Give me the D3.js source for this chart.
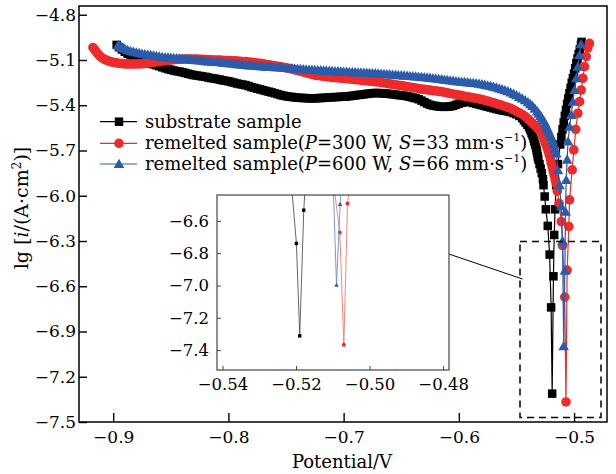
<!DOCTYPE html>
<html>
<head>
<meta charset="utf-8">
<script src="https://cdn.jsdelivr.net/npm/d3@7/dist/d3.min.js"></script>
<style>
  body { margin: 0; background: #fff; }
  svg { display: block; }
  text { font-family: "DejaVu Serif", serif; fill: #000; }
</style>
</head>
<body>
<svg id="chart" width="616" height="474"></svg>
<script>
// [potential / V, lg i]
const substrate = [
  [-0.897,-5.000],[-0.895,-5.015],[-0.8925,-5.03],[-0.890,-5.045],[-0.8875,-5.058],[-0.885,-5.068],
  [-0.8825,-5.077],[-0.880,-5.085],[-0.8775,-5.093],[-0.875,-5.100],[-0.8725,-5.108],[-0.870,-5.115],
  [-0.8675,-5.122],[-0.865,-5.129],[-0.8625,-5.135],[-0.860,-5.141],[-0.8575,-5.148],[-0.855,-5.154],
  [-0.8525,-5.160],[-0.850,-5.165],[-0.8475,-5.170],[-0.845,-5.174],[-0.8425,-5.177],[-0.840,-5.181],
  [-0.8375,-5.186],[-0.835,-5.191],[-0.8325,-5.196],[-0.830,-5.200],[-0.8275,-5.203],[-0.825,-5.206],
  [-0.8225,-5.209],[-0.820,-5.212],[-0.8175,-5.216],[-0.815,-5.220],[-0.8125,-5.223],[-0.810,-5.226],
  [-0.8075,-5.230],[-0.805,-5.235],[-0.8025,-5.238],[-0.800,-5.241],[-0.7975,-5.246],[-0.795,-5.251],
  [-0.7925,-5.256],[-0.790,-5.260],[-0.7875,-5.263],[-0.785,-5.267],[-0.7825,-5.273],[-0.780,-5.280],
  [-0.7775,-5.285],[-0.775,-5.290],[-0.7725,-5.295],[-0.770,-5.300],[-0.7675,-5.305],[-0.765,-5.310],
  [-0.7625,-5.315],[-0.760,-5.320],[-0.7575,-5.326],[-0.755,-5.332],[-0.7525,-5.336],[-0.750,-5.340],
  [-0.7475,-5.343],[-0.745,-5.345],[-0.7425,-5.348],[-0.740,-5.350],[-0.7375,-5.351],[-0.735,-5.352],
  [-0.7325,-5.353],[-0.730,-5.354],[-0.7275,-5.354],[-0.725,-5.354],[-0.7225,-5.353],[-0.720,-5.352],
  [-0.7175,-5.351],[-0.715,-5.350],[-0.7125,-5.348],[-0.710,-5.347],[-0.7075,-5.346],[-0.705,-5.345],
  [-0.7025,-5.344],[-0.700,-5.343],[-0.6975,-5.342],[-0.695,-5.340],[-0.6925,-5.337],[-0.690,-5.335],
  [-0.6875,-5.332],[-0.685,-5.330],[-0.6825,-5.327],[-0.680,-5.325],[-0.6775,-5.322],[-0.675,-5.320],
  [-0.6725,-5.319],[-0.670,-5.319],[-0.6675,-5.320],[-0.665,-5.322],[-0.6625,-5.323],[-0.660,-5.325],
  [-0.6575,-5.327],[-0.655,-5.330],[-0.6525,-5.332],[-0.650,-5.335],[-0.6475,-5.337],[-0.645,-5.340],
  [-0.6425,-5.344],[-0.640,-5.349],[-0.6375,-5.354],[-0.635,-5.360],[-0.6325,-5.369],[-0.630,-5.379],
  [-0.6275,-5.389],[-0.625,-5.397],[-0.6225,-5.402],[-0.620,-5.405],[-0.6175,-5.408],[-0.615,-5.410],
  [-0.6125,-5.411],[-0.610,-5.410],[-0.6075,-5.408],[-0.605,-5.404],[-0.6025,-5.397],[-0.600,-5.390],
  [-0.5975,-5.383],[-0.595,-5.378],[-0.5925,-5.377],[-0.590,-5.380],[-0.5875,-5.385],[-0.585,-5.390],
  [-0.5825,-5.395],[-0.580,-5.400],[-0.5775,-5.405],[-0.575,-5.410],[-0.5725,-5.415],[-0.570,-5.420],
  [-0.5675,-5.425],[-0.565,-5.430],[-0.5625,-5.434],[-0.560,-5.437],[-0.5575,-5.441],[-0.555,-5.445],
  [-0.5525,-5.452],[-0.550,-5.460],[-0.5475,-5.471],[-0.545,-5.485],[-0.5435,-5.50],[-0.542,-5.515],
  [-0.5405,-5.53],[-0.539,-5.545],[-0.5382,-5.557],[-0.5375,-5.57],[-0.5368,-5.585],[-0.536,-5.60],
  [-0.5352,-5.62],[-0.5345,-5.64],[-0.5338,-5.66],[-0.533,-5.68],[-0.5325,-5.70],[-0.532,-5.72],
  [-0.5315,-5.74],[-0.531,-5.76],[-0.530,-5.79],[-0.529,-5.82],[-0.528,-5.85],[-0.527,-5.89],
  [-0.5265,-5.93],[-0.5255,-6.005],[-0.5245,-6.09],[-0.5228,-6.20],[-0.5212,-6.39],[-0.5199,-6.74],
  [-0.5190,-7.312],[-0.5179,-6.534],[-0.5172,-6.26],[-0.5165,-6.09],[-0.5155,-5.93],[-0.5140,-5.79],
  [-0.5120,-5.66],[-0.5110,-5.61],[-0.5100,-5.56],[-0.5090,-5.515],[-0.5080,-5.47],[-0.5070,-5.43],
  [-0.5060,-5.39],[-0.5050,-5.355],[-0.5040,-5.32],[-0.5030,-5.285],[-0.5020,-5.25],[-0.5010,-5.22],
  [-0.5000,-5.19],[-0.4990,-5.155],[-0.4980,-5.12],[-0.4970,-5.09],[-0.4960,-5.06],[-0.4950,-5.03],
  [-0.4940,-5.00],[-0.4935,-4.98]
];
const remelted300 = [
  [-0.9176,-5.017],[-0.9160,-5.033],[-0.9145,-5.048],[-0.9130,-5.062],[-0.9115,-5.074],[-0.9100,-5.084],
  [-0.9080,-5.094],[-0.9060,-5.101],[-0.9040,-5.107],[-0.9020,-5.112],[-0.900,-5.115],[-0.8975,-5.119],
  [-0.895,-5.122],[-0.8925,-5.124],[-0.890,-5.126],[-0.8875,-5.127],[-0.885,-5.127],[-0.8825,-5.127],
  [-0.880,-5.127],[-0.8775,-5.126],[-0.875,-5.125],[-0.8725,-5.123],[-0.870,-5.120],[-0.8675,-5.118],
  [-0.865,-5.115],[-0.8625,-5.112],[-0.860,-5.110],[-0.8575,-5.107],[-0.855,-5.105],[-0.8525,-5.102],
  [-0.850,-5.100],[-0.8475,-5.098],[-0.845,-5.097],[-0.8425,-5.096],[-0.840,-5.095],[-0.8375,-5.094],
  [-0.835,-5.094],[-0.8325,-5.094],[-0.830,-5.094],[-0.8275,-5.094],[-0.825,-5.095],[-0.8225,-5.096],
  [-0.820,-5.097],[-0.8175,-5.098],[-0.815,-5.099],[-0.8125,-5.100],[-0.810,-5.100],[-0.8075,-5.101],
  [-0.805,-5.102],[-0.8025,-5.103],[-0.800,-5.104],[-0.7975,-5.105],[-0.795,-5.106],[-0.7925,-5.107],
  [-0.790,-5.108],[-0.7875,-5.110],[-0.785,-5.111],[-0.7825,-5.113],[-0.780,-5.115],[-0.7775,-5.117],
  [-0.775,-5.120],[-0.7725,-5.122],[-0.770,-5.125],[-0.7675,-5.128],[-0.765,-5.132],[-0.7625,-5.135],
  [-0.760,-5.138],[-0.7575,-5.141],[-0.755,-5.144],[-0.7525,-5.148],[-0.750,-5.152],[-0.7475,-5.156],
  [-0.745,-5.160],[-0.7425,-5.165],[-0.740,-5.170],[-0.7375,-5.175],[-0.735,-5.180],[-0.7325,-5.185],
  [-0.730,-5.190],[-0.7275,-5.195],[-0.725,-5.200],[-0.7225,-5.203],[-0.720,-5.205],[-0.7175,-5.208],
  [-0.715,-5.210],[-0.7125,-5.213],[-0.710,-5.215],[-0.7075,-5.217],[-0.705,-5.218],[-0.7025,-5.220],
  [-0.700,-5.221],[-0.6975,-5.223],[-0.695,-5.225],[-0.6925,-5.228],[-0.690,-5.230],[-0.6875,-5.232],
  [-0.685,-5.234],[-0.6825,-5.236],[-0.680,-5.238],[-0.6775,-5.240],[-0.675,-5.242],[-0.6725,-5.244],
  [-0.670,-5.246],[-0.6675,-5.249],[-0.665,-5.252],[-0.6625,-5.255],[-0.660,-5.258],[-0.6575,-5.261],
  [-0.655,-5.264],[-0.6525,-5.267],[-0.650,-5.270],[-0.6475,-5.273],[-0.645,-5.276],[-0.6425,-5.279],
  [-0.640,-5.282],[-0.6375,-5.286],[-0.635,-5.290],[-0.6325,-5.293],[-0.630,-5.295],[-0.6275,-5.298],
  [-0.625,-5.300],[-0.6225,-5.303],[-0.620,-5.305],[-0.6175,-5.308],[-0.615,-5.310],[-0.6125,-5.314],
  [-0.610,-5.318],[-0.6075,-5.322],[-0.605,-5.325],[-0.6025,-5.329],[-0.600,-5.332],[-0.5975,-5.336],
  [-0.595,-5.340],[-0.5925,-5.344],[-0.590,-5.347],[-0.5875,-5.351],[-0.585,-5.354],[-0.5825,-5.358],
  [-0.580,-5.362],[-0.5775,-5.367],[-0.575,-5.372],[-0.5725,-5.378],[-0.570,-5.383],[-0.5675,-5.389],
  [-0.565,-5.395],[-0.5625,-5.401],[-0.560,-5.408],[-0.5575,-5.414],[-0.555,-5.420],[-0.5525,-5.430],
  [-0.550,-5.440],[-0.5475,-5.450],[-0.545,-5.460],[-0.5425,-5.474],[-0.540,-5.490],[-0.538,-5.505],
  [-0.536,-5.520],[-0.534,-5.535],[-0.532,-5.550],[-0.530,-5.567],[-0.5285,-5.585],[-0.527,-5.605],
  [-0.526,-5.63],[-0.5248,-5.655],[-0.5235,-5.68],[-0.5225,-5.705],[-0.5215,-5.73],[-0.5205,-5.757],
  [-0.5198,-5.784],[-0.5190,-5.807],[-0.5183,-5.83],[-0.5176,-5.852],[-0.5169,-5.873],[-0.5162,-5.897],
  [-0.5155,-5.92],[-0.5145,-5.97],[-0.5130,-6.05],[-0.5111,-6.171],[-0.5100,-6.33],[-0.5081,-6.672],
  [-0.5070,-7.367],[-0.5060,-6.493],[-0.5045,-6.204],[-0.5039,-6.027],[-0.5016,-5.828],[-0.5002,-5.696],
  [-0.4985,-5.56],[-0.4967,-5.453],[-0.4952,-5.376],[-0.4938,-5.299],[-0.4924,-5.221],[-0.4909,-5.144],
  [-0.4894,-5.078],[-0.4880,-5.02],[-0.4866,-4.99]
];
const remelted600 = [
  [-0.8957,-5.000],[-0.8945,-5.008],[-0.893,-5.015],[-0.8915,-5.020],[-0.890,-5.025],[-0.8875,-5.033],
  [-0.885,-5.040],[-0.8825,-5.045],[-0.880,-5.050],[-0.8775,-5.054],[-0.875,-5.058],[-0.8725,-5.061],
  [-0.870,-5.064],[-0.8675,-5.067],[-0.865,-5.070],[-0.8625,-5.073],[-0.860,-5.076],[-0.8575,-5.079],
  [-0.855,-5.081],[-0.8525,-5.083],[-0.850,-5.085],[-0.8475,-5.087],[-0.845,-5.088],[-0.8425,-5.090],
  [-0.840,-5.091],[-0.8375,-5.093],[-0.835,-5.095],[-0.8325,-5.097],[-0.830,-5.099],[-0.8275,-5.101],
  [-0.825,-5.103],[-0.8225,-5.105],[-0.820,-5.107],[-0.8175,-5.109],[-0.815,-5.110],[-0.8125,-5.112],
  [-0.810,-5.113],[-0.8075,-5.115],[-0.805,-5.117],[-0.8025,-5.119],[-0.800,-5.121],[-0.7975,-5.123],
  [-0.795,-5.125],[-0.7925,-5.127],[-0.790,-5.129],[-0.7875,-5.131],[-0.785,-5.133],[-0.7825,-5.135],
  [-0.780,-5.136],[-0.7775,-5.138],[-0.775,-5.139],[-0.7725,-5.141],[-0.770,-5.142],[-0.7675,-5.144],
  [-0.765,-5.145],[-0.7625,-5.146],[-0.760,-5.147],[-0.7575,-5.148],[-0.755,-5.149],[-0.7525,-5.151],
  [-0.750,-5.152],[-0.7475,-5.154],[-0.745,-5.155],[-0.7425,-5.157],[-0.740,-5.158],[-0.7375,-5.160],
  [-0.735,-5.161],[-0.7325,-5.163],[-0.730,-5.164],[-0.7275,-5.165],[-0.725,-5.166],[-0.7225,-5.167],
  [-0.720,-5.168],[-0.7175,-5.169],[-0.715,-5.170],[-0.7125,-5.171],[-0.710,-5.172],[-0.7075,-5.174],
  [-0.705,-5.175],[-0.7025,-5.176],[-0.700,-5.177],[-0.6975,-5.178],[-0.695,-5.179],[-0.6925,-5.180],
  [-0.690,-5.181],[-0.6875,-5.182],[-0.685,-5.183],[-0.6825,-5.184],[-0.680,-5.185],[-0.6775,-5.186],
  [-0.675,-5.187],[-0.6725,-5.188],[-0.670,-5.189],[-0.6675,-5.191],[-0.665,-5.192],[-0.6625,-5.194],
  [-0.660,-5.195],[-0.6575,-5.197],[-0.655,-5.198],[-0.6525,-5.200],[-0.650,-5.201],[-0.6475,-5.203],
  [-0.645,-5.204],[-0.6425,-5.206],[-0.640,-5.207],[-0.6375,-5.209],[-0.635,-5.210],[-0.6325,-5.212],
  [-0.630,-5.214],[-0.6275,-5.216],[-0.625,-5.218],[-0.6225,-5.220],[-0.620,-5.222],[-0.6175,-5.225],
  [-0.615,-5.227],[-0.6125,-5.230],[-0.610,-5.232],[-0.6075,-5.235],[-0.605,-5.237],[-0.6025,-5.240],
  [-0.600,-5.242],[-0.5975,-5.244],[-0.595,-5.246],[-0.5925,-5.248],[-0.590,-5.250],[-0.5875,-5.252],
  [-0.585,-5.254],[-0.5825,-5.257],[-0.580,-5.260],[-0.5775,-5.264],[-0.575,-5.268],[-0.5725,-5.272],
  [-0.570,-5.277],[-0.5675,-5.282],[-0.565,-5.288],[-0.5625,-5.294],[-0.560,-5.300],[-0.5575,-5.307],
  [-0.555,-5.315],[-0.5525,-5.324],[-0.550,-5.333],[-0.5475,-5.344],[-0.545,-5.355],[-0.5425,-5.367],
  [-0.540,-5.380],[-0.538,-5.392],[-0.536,-5.405],[-0.534,-5.422],[-0.532,-5.440],[-0.5305,-5.455],
  [-0.529,-5.470],[-0.528,-5.485],[-0.5265,-5.50],[-0.525,-5.52],[-0.524,-5.54],[-0.523,-5.557],
  [-0.522,-5.575],[-0.521,-5.592],[-0.5198,-5.61],[-0.5185,-5.635],[-0.5175,-5.66],[-0.5165,-5.69],
  [-0.5154,-5.72],[-0.5140,-5.83],[-0.5126,-5.93],[-0.5111,-6.07],[-0.5100,-6.30],[-0.5090,-6.997],
  [-0.5080,-6.497],[-0.5074,-6.105],[-0.5068,-5.895],[-0.5060,-5.76],[-0.5052,-5.64],[-0.5039,-5.542],
  [-0.5024,-5.464],[-0.5010,-5.376],[-0.4996,-5.299],[-0.4981,-5.221],[-0.4967,-5.144],[-0.4953,-5.067],
  [-0.4940,-4.995]
];

const xTicks = [-0.9, -0.8, -0.7, -0.6, -0.5];
const yTicks = [-7.5, -7.2, -6.9, -6.6, -6.3, -6.0, -5.7, -5.4, -5.1, -4.8];
const insetXTicks = [-0.54, -0.52, -0.50, -0.48];
const insetYTicks = [-7.4, -7.2, -7.0, -6.8, -6.6];

const svg = d3.select('#chart');
const margin = { left: 79, right: 607, top: 6, bottom: 422 };

const x = d3.scaleLinear().domain([-0.9297, -0.4714]).range([margin.left, margin.right]);
const y = d3.scaleLinear().domain([-7.5, -4.742]).range([margin.bottom, margin.top]);

const series = [
  { data: substrate, color: '#000000', shape: 'square' },
  { data: remelted300, color: '#ee2a2a', shape: 'circle' },
  { data: remelted600, color: '#2b5cab', shape: 'triangle' }
];

function drawMarkers(g, s, sx, sy, big) {
  const sel = g.selectAll(null).data(s.data);
  if (s.shape === 'square') {
    const w = big ? 8.5 : 3.4;
    sel.enter().append('rect')
      .attr('x', d => sx(d[0]) - w / 2).attr('y', d => sy(d[1]) - w / 2)
      .attr('width', w).attr('height', w).attr('fill', s.color);
  } else if (s.shape === 'circle') {
    sel.enter().append('circle')
      .attr('cx', d => sx(d[0])).attr('cy', d => sy(d[1]))
      .attr('r', big ? 4.8 : 2).attr('fill', s.color);
  } else {
    const tri = d3.symbol(d3.symbolTriangle, big ? 50 : 9)();
    sel.enter().append('path').attr('d', tri)
      .attr('transform', d => `translate(${sx(d[0])},${sy(d[1]) + (big ? 1 : 0.5)})`)
      .attr('fill', s.color);
  }
}

// main curves
const mainG = svg.append('g');
series.forEach(s => {
  mainG.append('path').datum(s.data)
    .attr('d', d3.line().x(d => x(d[0])).y(d => y(d[1])))
    .attr('fill', 'none').attr('stroke', s.color).attr('stroke-width', 1.2);
  drawMarkers(mainG, s, x, y, true);
});

// main axes (ticks inward)
svg.append('g')
  .attr('transform', `translate(0,${margin.bottom})`)
  .call(d3.axisBottom(x).tickValues(xTicks).tickSize(-9).tickPadding(9).tickFormat(d3.format('.1f')))
  .call(g => g.select('.domain').remove())
  .call(g => g.selectAll('line').attr('stroke-width', 1.4))
  .call(g => g.selectAll('text').attr('font-size', 17).attr('font-family', '"DejaVu Serif", serif'));

svg.append('g')
  .attr('transform', `translate(${margin.left},0)`)
  .call(d3.axisLeft(y).tickValues(yTicks).tickSize(-8).tickPadding(3).tickFormat(d3.format('.1f')))
  .call(g => g.select('.domain').remove())
  .call(g => g.selectAll('line').attr('stroke-width', 1.4))
  .call(g => g.selectAll('text').attr('font-size', 17).attr('font-family', '"DejaVu Serif", serif'));

svg.append('rect')
  .attr('x', margin.left).attr('y', margin.top)
  .attr('width', margin.right - margin.left).attr('height', margin.bottom - margin.top)
  .attr('fill', 'none').attr('stroke', '#000').attr('stroke-width', 1.5);

// axis titles
svg.append('text')
  .attr('x', 342).attr('y', 468).attr('text-anchor', 'middle').attr('font-size', 18)
  .text('Potential/V');

const yTitle = svg.append('text')
  .attr('transform', 'translate(28,208) rotate(-90)')
  .attr('text-anchor', 'middle').attr('font-size', 19);
yTitle.append('tspan').text('lg [');
yTitle.append('tspan').attr('font-style', 'italic').text('i');
yTitle.append('tspan').text('/(A\u00b7cm');
yTitle.append('tspan').attr('font-size', 12).attr('dy', -7).text('2');
yTitle.append('tspan').attr('dy', 7).text(')]');

// legend
const legendRows = [
  { y: 121.7, s: series[0], parts: [['substrate sample']] },
  { y: 143.3, s: series[1], parts: [['remelted sample('], ['P', 'i'], ['=300 W, '], ['S', 'i'], ['=33 mm\u00b7s'], ['\u22121', 'sup'], [')', 'down']] },
  { y: 164.0, s: series[2], parts: [['remelted sample('], ['P', 'i'], ['=600 W, '], ['S', 'i'], ['=66 mm\u00b7s'], ['\u22121', 'sup'], [')', 'down']] }
];
legendRows.forEach(row => {
  const g = svg.append('g');
  g.append('line').attr('x1', 100).attr('x2', 137).attr('y1', row.y).attr('y2', row.y)
    .attr('stroke', row.s.color).attr('stroke-width', 1.2);
  const lx = d3.scaleLinear().domain([0, 1]).range([119, 120]);
  const ly = d3.scaleLinear().domain([0, 1]).range([row.y, row.y + 1]);
  drawMarkers(g, { data: [[0, 0]], color: row.s.color, shape: row.s.shape }, lx, ly, true);
  const t = g.append('text').attr('x', 145).attr('y', row.y + 6).attr('font-size', 18);
  row.parts.forEach(p => {
    const sp = t.append('tspan').text(p[0]);
    if (p[1] === 'i') sp.attr('font-style', 'italic');
    if (p[1] === 'sup') sp.attr('font-size', 11).attr('dy', -8);
    if (p[1] === 'down') sp.attr('dy', 8);
  });
});

// zoom box and arrow
svg.append('rect')
  .attr('x', 520).attr('y', 241.5).attr('width', 81).attr('height', 176)
  .attr('fill', 'none').attr('stroke', '#000').attr('stroke-width', 1.5)
  .attr('stroke-dasharray', '7,5');

svg.append('defs').append('marker')
  .attr('id', 'arrow').attr('viewBox', '0 0 10 10').attr('refX', 9).attr('refY', 5)
  .attr('markerWidth', 9).attr('markerHeight', 7).attr('orient', 'auto')
  .attr('markerUnits', 'userSpaceOnUse')
  .append('path').attr('d', 'M0,0 L10,5 L0,10 Z').attr('fill', '#000');
svg.append('line')
  .attr('x1', 522.5).attr('y1', 279).attr('x2', 440).attr('y2', 251)
  .attr('stroke', '#000').attr('stroke-width', 1).attr('marker-end', 'url(#arrow)');

// inset
const inset = { left: 217, right: 449, top: 195, bottom: 370 };
const xi = d3.scaleLinear().domain([-0.5415, -0.4784]).range([inset.left, inset.right]);
const yi = d3.scaleLinear().domain([-7.523, -6.44]).range([inset.bottom, inset.top]);

svg.append('rect')
  .attr('x', inset.left).attr('y', inset.top)
  .attr('width', inset.right - inset.left).attr('height', inset.bottom - inset.top)
  .attr('fill', '#fff');

svg.select('defs').append('clipPath').attr('id', 'insetClip')
  .append('rect').attr('x', inset.left).attr('y', inset.top)
  .attr('width', inset.right - inset.left).attr('height', inset.bottom - inset.top);

const insetG = svg.append('g').attr('clip-path', 'url(#insetClip)');
const insetLine = ['#555555', '#f07a6e', '#6f8bd0'];
series.forEach((s, i) => {
  insetG.append('path').datum(s.data)
    .attr('d', d3.line().x(d => xi(d[0])).y(d => yi(d[1])))
    .attr('fill', 'none').attr('stroke', insetLine[i]).attr('stroke-width', 0.9);
  drawMarkers(insetG, s, xi, yi, false);
});

svg.append('g')
  .attr('transform', `translate(0,${inset.bottom})`)
  .call(d3.axisBottom(xi).tickValues(insetXTicks).tickSize(-4).tickPadding(8).tickFormat(d3.format('.2f')))
  .call(g => g.select('.domain').remove())
  .call(g => g.selectAll('line').attr('stroke', '#444'))
  .call(g => g.selectAll('text').attr('font-size', 16.5).attr('font-family', '"DejaVu Serif", serif'));

svg.append('g')
  .attr('transform', `translate(${inset.left},0)`)
  .call(d3.axisLeft(yi).tickValues(insetYTicks).tickSize(-4).tickPadding(8).tickFormat(d3.format('.1f')))
  .call(g => g.select('.domain').remove())
  .call(g => g.selectAll('line').attr('stroke', '#444'))
  .call(g => g.selectAll('text').attr('font-size', 16.5).attr('font-family', '"DejaVu Serif", serif'));

svg.append('rect')
  .attr('x', inset.left).attr('y', inset.top)
  .attr('width', inset.right - inset.left).attr('height', inset.bottom - inset.top)
  .attr('fill', 'none').attr('stroke', '#444').attr('stroke-width', 1.2);
</script>
</body>
</html>
